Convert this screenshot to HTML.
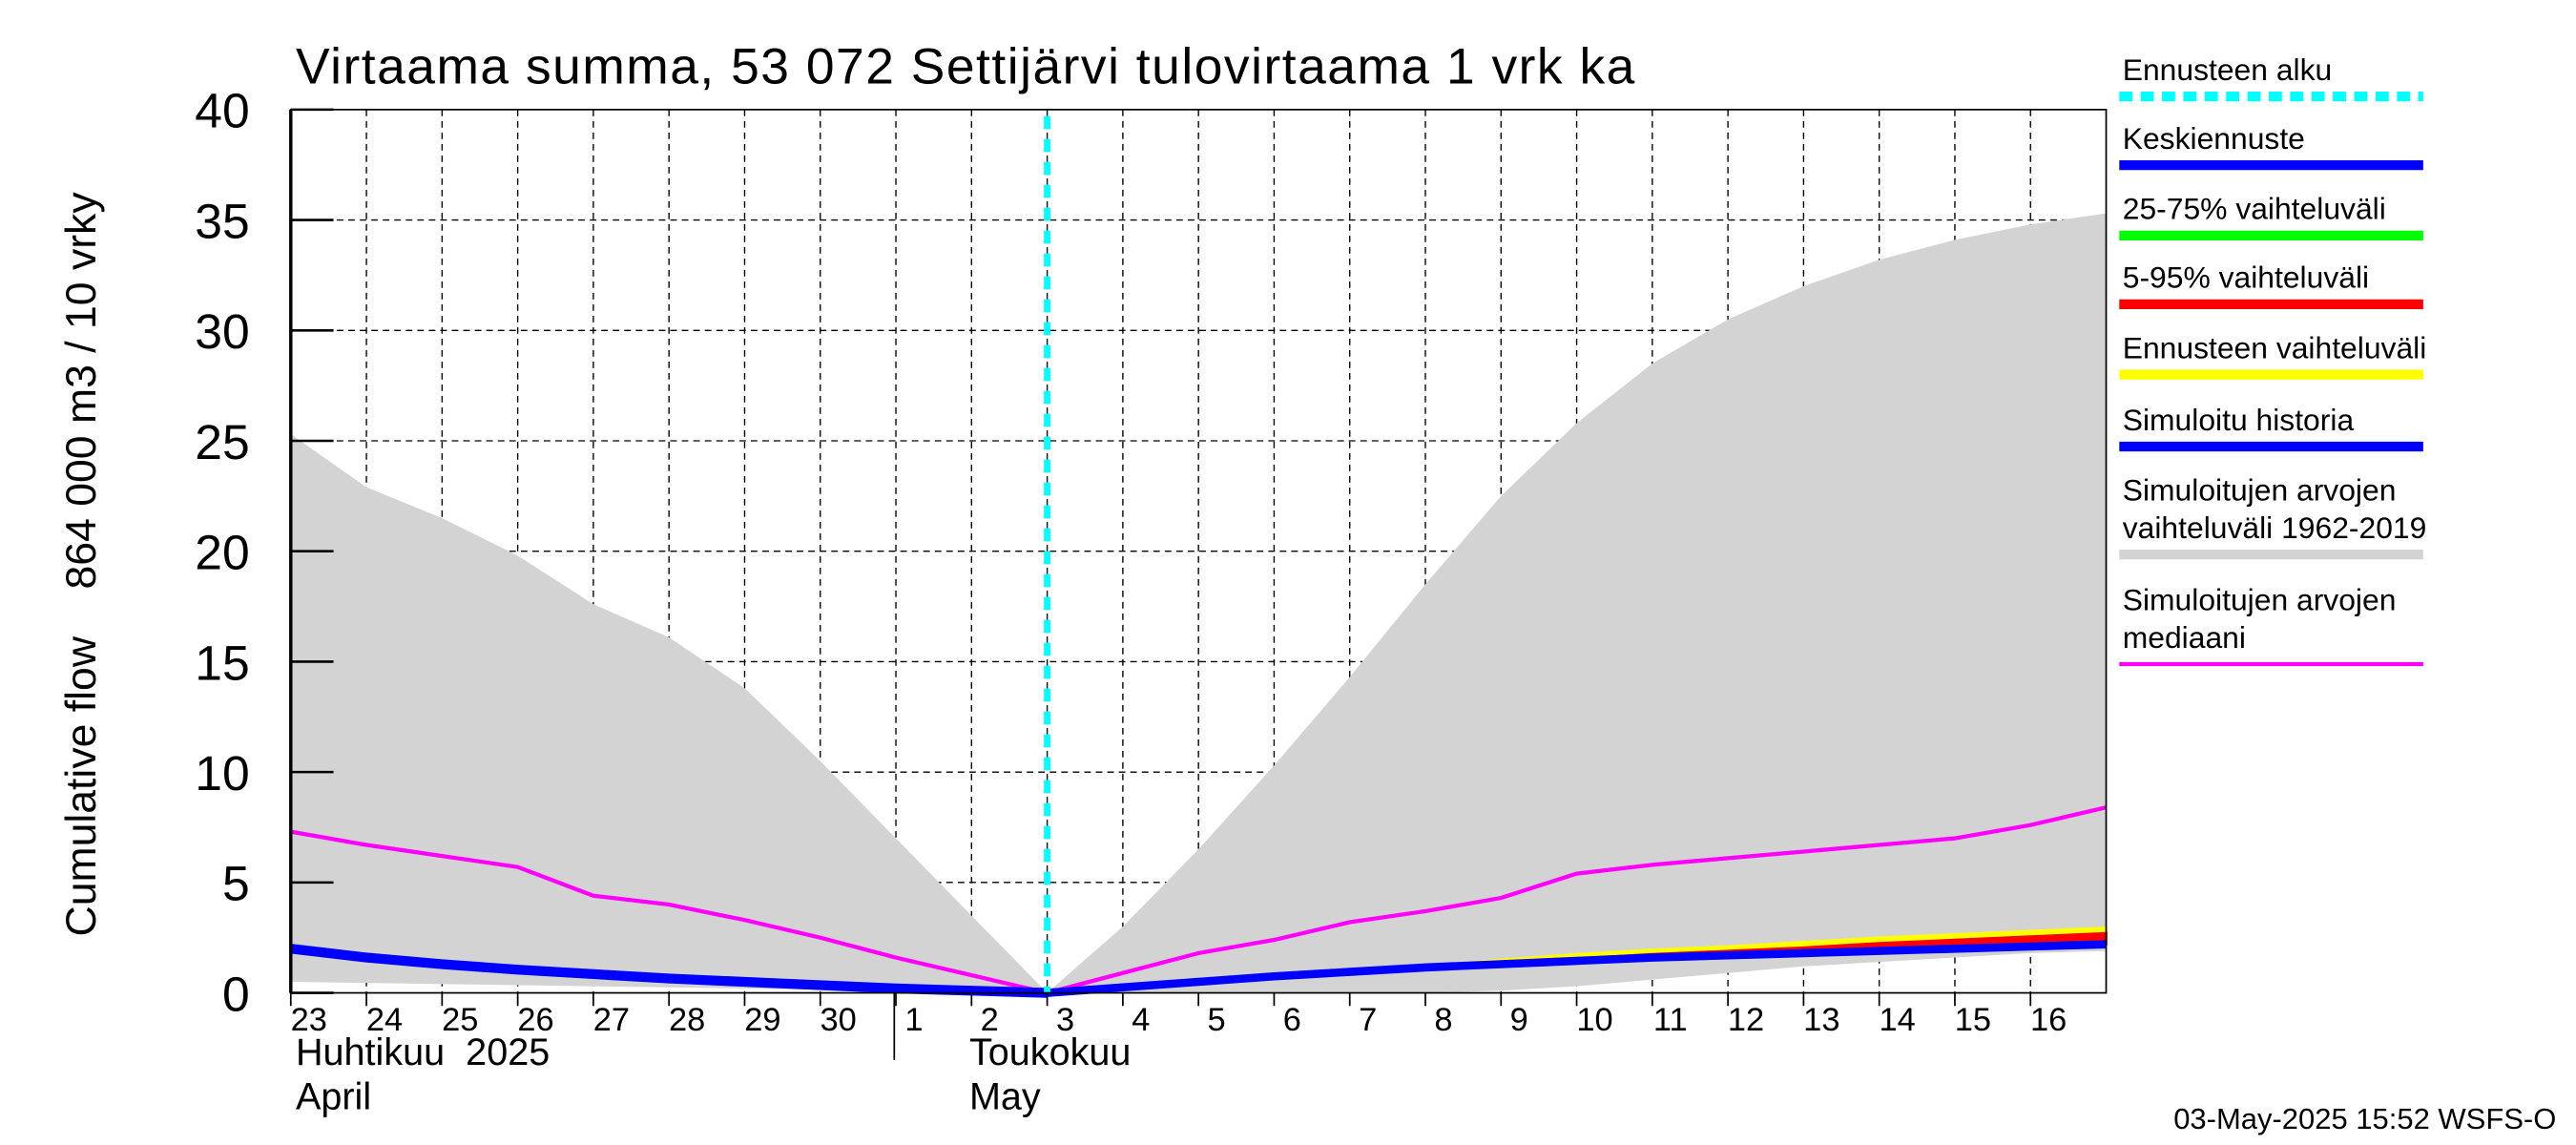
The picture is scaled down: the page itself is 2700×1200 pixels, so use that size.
<!DOCTYPE html>
<html><head><meta charset="utf-8"><style>html,body{margin:0;padding:0;background:#fff}svg{display:block}text{font-family:"Liberation Sans",sans-serif}</style></head>
<body>
<svg id="c" width="2700" height="1200" viewBox="0 0 1568 700" preserveAspectRatio="none" xmlns="http://www.w3.org/2000/svg">
<g id="grid"></g>
<g id="marks"></g>
<g id="axes"></g>
<text x="180" y="51" font-size="31" textLength="815">Virtaama summa, 53 072 Settijärvi tulovirtaama 1 vrk ka</text>
<text transform="translate(58,345) rotate(-90)" font-size="26" text-anchor="middle">Cumulative flow&#160;&#160;&#160;&#160;864 000 m3 / 10 vrky</text>
<text x="180" y="651" font-size="23">Huhtikuu&#160;&#160;2025</text>
<text x="180" y="678" font-size="23">April</text>
<text x="590" y="651" font-size="23">Toukokuu</text>
<text x="590" y="678" font-size="23">May</text>
<text x="1556" y="690" font-size="18" text-anchor="end">03-May-2025 15:52 WSFS-O</text>
<g id="legend"></g>
</svg>
<script>
const dayLabels=["23","24","25","26","27","28","29","30","1","2","3","4","5","6","7","8","9","10","11","12","13","14","15","16"];
const yTicks=[0,5,10,15,20,25,30,35,40];
const rangeUpper=[25.3,22.9,21.5,19.8,17.6,16.1,13.8,10.5,7.0,3.5,0,3.0,6.5,10.3,14.3,18.5,22.5,25.8,28.5,30.5,32.0,33.2,34.1,34.8,35.3];
const rangeLower=[0.5,0.45,0.4,0.35,0.3,0.25,0.2,0.15,0.1,0.05,0,0,0,0,0,0,0.1,0.3,0.6,0.9,1.2,1.4,1.6,1.8,1.9];
const median=[7.3,6.7,6.2,5.7,4.4,4.0,3.3,2.5,1.6,0.8,0,0.9,1.8,2.4,3.2,3.7,4.3,5.4,5.8,6.1,6.4,6.7,7.0,7.6,8.4];
const history=[2.0,1.6,1.3,1.05,0.85,0.65,0.5,0.35,0.2,0.1,0];
const forecastMean=[0,0.25,0.5,0.75,0.95,1.15,1.3,1.45,1.6,1.7,1.8,1.9,2.0,2.1,2.2];
const forecastMax=[0,0.25,0.5,0.75,0.97,1.2,1.5,1.75,1.95,2.1,2.3,2.5,2.65,2.8,2.95];
const p95=[0,0.25,0.5,0.75,0.96,1.17,1.35,1.55,1.75,1.9,2.05,2.25,2.4,2.55,2.7];
const forecastStart=10;
const legendItems=[["Ennusteen alku","#00ffff",true],["Keskiennuste","#0000ff"],["25-75% vaihteluväli","#00ff00"],["5-95% vaihteluväli","#ff0000"],["Ennusteen vaihteluväli","#ffff00"],["Simuloitu historia","#0000ff"],["Simuloitujen arvojen|vaihteluväli 1962-2019","#d3d3d3"],["Simuloitujen arvojen|mediaani","#ff00ff"]];
const X0=177,X1=1282,Y0=607,YT=67,DW=(X1-X0)/24;
const xs=d=>X0+d*DW, ys=v=>Y0-(v/40)*(Y0-YT);
const NS="http://www.w3.org/2000/svg";
function mk(t,a,p){const e=document.createElementNS(NS,t);for(const k in a)e.setAttribute(k,a[k]);p.appendChild(e);return e;}
const G=document.getElementById('grid'),M=document.getElementById('marks'),A=document.getElementById('axes'),L=document.getElementById('legend');
const pts=(arr,off)=>arr.map((v,i)=>xs(i+off)+','+ys(v)).join(' ');
let band=mk('polygon',{points:pts(rangeUpper,0)+' '+rangeLower.map((v,i)=>[xs(i),ys(v)]).reverse().map(p=>p.join(',')).join(' '),fill:'#d3d3d3'},M);

for(let d=1;d<24;d++){const l=mk('line',{x1:xs(d),x2:xs(d),y1:YT,y2:Y0,stroke:'#000','stroke-width':0.8,'stroke-dasharray':'4,3'},G);}
yTicks.forEach(v=>{if(v>0&&v<40){const l=mk('line',{x1:X0,x2:X1,y1:ys(v),y2:ys(v),stroke:'#000','stroke-width':0.8,'stroke-dasharray':'4,3'},G);}});
function bandPoly(up,col,name){const e=mk('polygon',{points:pts(up,forecastStart)+' '+forecastMean.map((v,i)=>[xs(i+forecastStart),ys(v)]).reverse().map(p=>p.join(',')).join(' '),fill:col,stroke:col,'stroke-width':1.5},M);}
bandPoly(forecastMax,'#ffff00','forecast-range-band');
bandPoly(p95,'#ff0000','p5-95-band');
let med=mk('polyline',{points:pts(median,0),fill:'none',stroke:'#ff00ff','stroke-width':2.5},M);
let hist=mk('polyline',{points:pts(history,0),fill:'none',stroke:'#0000ff','stroke-width':6},M);
let fc=mk('polyline',{points:pts(forecastMean,forecastStart),fill:'none',stroke:'#0000ff','stroke-width':5},M);
let fs=mk('line',{x1:xs(forecastStart),x2:xs(forecastStart),y1:YT+4,y2:Y0,stroke:'#00ffff','stroke-width':4,'stroke-dasharray':'8,6'},M);
let fr=mk('rect',{x:X0,y:YT,width:X1-X0,height:Y0-YT,fill:'none',stroke:'#000','stroke-width':1},A);
let ax=mk('line',{x1:X0,x2:X0,y1:YT,y2:Y0,stroke:'#000','stroke-width':2},A);
yTicks.forEach(v=>{const t=mk('line',{x1:X0,x2:X0+26,y1:ys(v),y2:ys(v),stroke:'#000','stroke-width':1.5},A);
const tx=mk('text',{x:152,y:ys(v)+11,'font-size':30,'text-anchor':'end'},A);tx.textContent=v;});
dayLabels.forEach((s,i)=>{const t=mk('line',{x1:xs(i),x2:xs(i),y1:Y0,y2:Y0+8,stroke:'#000','stroke-width':1},A);
const tx=mk('text',{x:xs(i)+11,y:630,'font-size':20,'text-anchor':'middle'},A);tx.textContent=s;});
let sep=mk('line',{x1:xs(8)-1,x2:xs(8)-1,y1:Y0,y2:648,stroke:'#000','stroke-width':1},A);
const ly=[43,85,128,170,213,257,300,367];
legendItems.forEach((it,i)=>{const lines=it[0].split('|');lines.forEach((s,j)=>{const t=mk('text',{x:1292,y:ly[i]+6+j*23,'font-size':18.5},L);t.textContent=s;});
const yy=ly[i]+16+(lines.length-1)*23;
const a={x1:1290,x2:1475,y1:yy,y2:yy,stroke:it[1],'stroke-width':i==7?2.5:6};if(it[2])a['stroke-dasharray']='8,5';
const l=mk('line',a,L);});
</script>
</body></html>
